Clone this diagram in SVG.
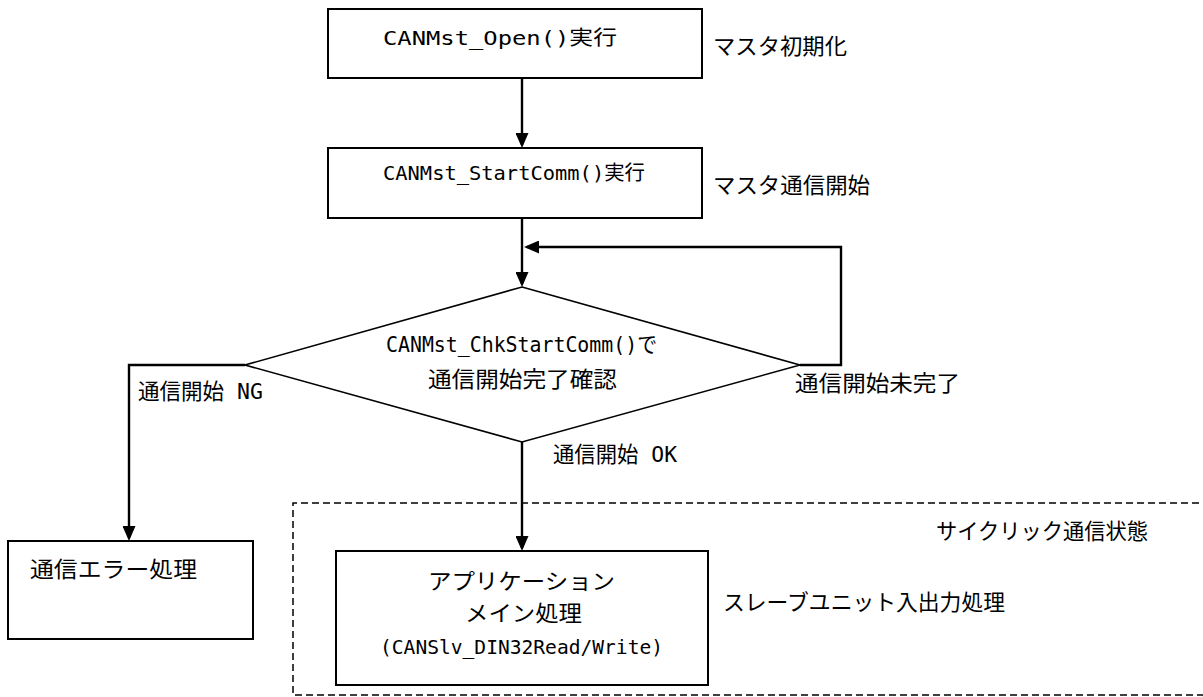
<svg xmlns="http://www.w3.org/2000/svg" width="1203" height="697" viewBox="0 0 1203 697">
  <style>
    .box { fill: #fff; stroke: #000; stroke-width: 2; }
    .dia { fill: #fff; stroke: #000; stroke-width: 1.6; }
    .wire { fill: none; stroke: #000; stroke-width: 2.4; }
    .zone { fill: none; stroke: #000; stroke-width: 1.5; stroke-dasharray: 7 4; }
    text { font-family: "DejaVu Sans Mono", "Noto Sans CJK JP", monospace; fill: #000; }
    .t20 { font-size: 20px; }
    .t22 { font-size: 22px; }
  </style>
  <defs>
    <marker id="arrow" markerUnits="userSpaceOnUse" markerWidth="15" markerHeight="13" refX="12" refY="6.5" orient="auto">
      <path d="M0,0 L15,6.5 L0,13 z" fill="#000"/>
    </marker>
  </defs>

  <rect width="1203" height="697" fill="#fff"/>

  <!-- cyclic communication area -->
  <g id="cyclic-area">
    <path class="zone" d="M1210 503 H293 V695 H1210"/>
    <text class="t22" x="936" y="539" textLength="212" lengthAdjust="spacingAndGlyphs">サイクリック通信状態</text>
  </g>

  <g id="open">
    <rect class="box" x="328" y="9" width="374" height="69"/>
    <text class="t20" x="383" y="45" textLength="234" lengthAdjust="spacingAndGlyphs">CANMst_Open()実行</text>
    <text class="t22" x="713" y="54" textLength="134" lengthAdjust="spacingAndGlyphs">マスタ初期化</text>
  </g>

  <g id="start-comm">
    <rect class="box" x="328" y="148" width="374" height="70"/>
    <text class="t20" x="383" y="180" textLength="262" lengthAdjust="spacingAndGlyphs">CANMst_StartComm()実行</text>
    <text class="t22" x="713" y="193" textLength="157" lengthAdjust="spacingAndGlyphs">マスタ通信開始</text>
  </g>

  <g id="check">
    <polygon class="dia" points="522,287 800,365 522,442 245,365"/>
    <text class="t22" x="386" y="352" textLength="271" lengthAdjust="spacingAndGlyphs">CANMst_ChkStartComm()で</text>
    <text class="t22" x="428" y="387" textLength="189" lengthAdjust="spacingAndGlyphs">通信開始完了確認</text>
  </g>

  <g id="error">
    <rect class="box" x="8" y="541" width="245" height="98"/>
    <text class="t22" x="30" y="577" textLength="167" lengthAdjust="spacingAndGlyphs">通信エラー処理</text>
  </g>

  <g id="app-main">
    <rect class="box" x="336" y="551" width="372" height="134"/>
    <text class="t22" x="428" y="589" textLength="187" lengthAdjust="spacingAndGlyphs">アプリケーション</text>
    <text class="t22" x="465" y="621" textLength="117" lengthAdjust="spacingAndGlyphs">メイン処理</text>
    <text class="t20" x="380" y="654" textLength="283" lengthAdjust="spacingAndGlyphs">(CANSlv_DIN32Read/Write)</text>
    <text class="t22" x="723" y="610" textLength="282" lengthAdjust="spacingAndGlyphs">スレーブユニット入出力処理</text>
  </g>

  <g id="connectors">
    <path class="wire" d="M522 78 V145" marker-end="url(#arrow)"/>
    <path class="wire" d="M522 218 V284" marker-end="url(#arrow)"/>
    <path class="wire" d="M800 365 H841 V247 H527" marker-end="url(#arrow)"/>
    <path class="wire" d="M245 365 H129 V538" marker-end="url(#arrow)"/>
    <path class="wire" d="M522 442 V548" marker-end="url(#arrow)"/>
    <text class="t22" x="795" y="391" textLength="165" lengthAdjust="spacingAndGlyphs">通信開始未完了</text>
    <text class="t22" x="138" y="399" textLength="125" lengthAdjust="spacingAndGlyphs">通信開始 NG</text>
    <text class="t22" x="553" y="462" textLength="124" lengthAdjust="spacingAndGlyphs">通信開始 OK</text>
  </g>
</svg>
